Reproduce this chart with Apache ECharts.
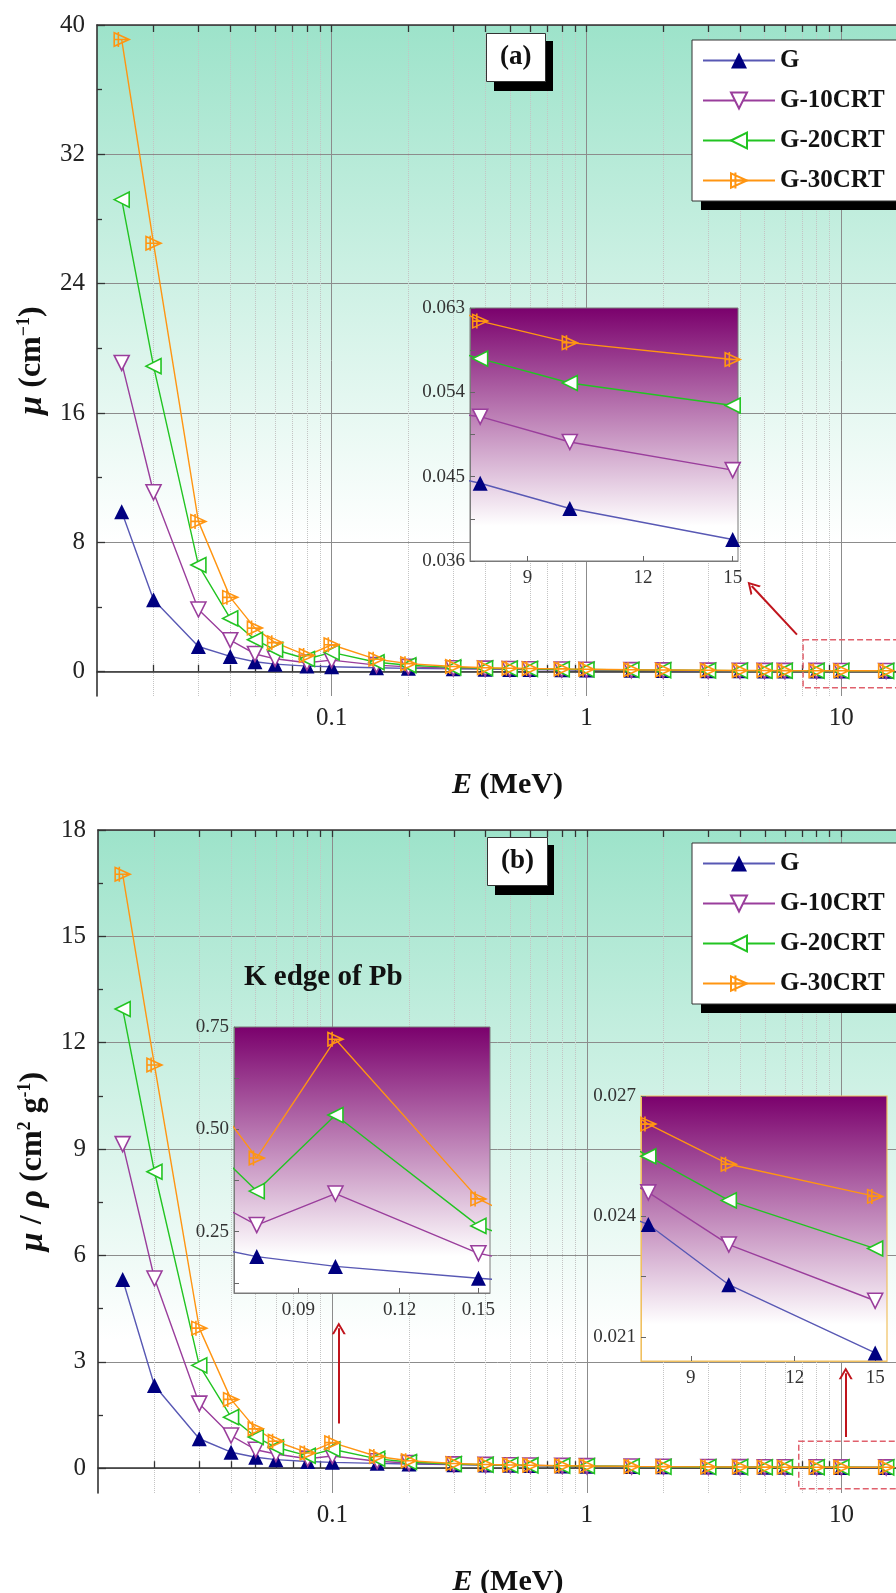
<!DOCTYPE html>
<html>
<head>
<meta charset="utf-8">
<script src="https://cdn.jsdelivr.net/npm/echarts@6/dist/echarts.min.js"></script>
</head>
<body style="margin:0">
<div id="container" style="width:896px;height:1593px"></div>
<script>
var energy = [0.015, 0.02, 0.03, 0.04, 0.05, 0.06, 0.08, 0.1, 0.15, 0.2, 0.3, 0.4, 0.5, 0.6, 0.8, 1, 1.5, 2, 3, 4, 5, 6, 8, 10, 15];

// (a) mu, cm-1
var muG   = [9.9, 4.45, 1.56, 0.95, 0.62, 0.47, 0.35, 0.31, 0.25, 0.21, 0.18, 0.16, 0.145, 0.135, 0.118, 0.106, 0.087, 0.075, 0.062, 0.054, 0.05, 0.047, 0.0443, 0.0416, 0.0383];
var muG10 = [19.1, 11.1, 3.85, 1.95, 1.1, 0.8, 0.56, 0.72, 0.41, 0.3, 0.22, 0.19, 0.17, 0.155, 0.135, 0.122, 0.099, 0.086, 0.07, 0.061, 0.056, 0.053, 0.0514, 0.0487, 0.0457];
var muG20 = [29.2, 18.9, 6.6, 3.3, 1.98, 1.36, 0.79, 1.2, 0.59, 0.4, 0.27, 0.22, 0.195, 0.178, 0.155, 0.14, 0.114, 0.099, 0.081, 0.071, 0.065, 0.061, 0.0576, 0.055, 0.0526];
var muG30 = [39.1, 26.5, 9.3, 4.6, 2.7, 1.8, 1.0, 1.67, 0.77, 0.5, 0.32, 0.25, 0.22, 0.2, 0.175, 0.158, 0.128, 0.111, 0.092, 0.081, 0.074, 0.068, 0.0616, 0.0593, 0.0575];

// (b) mu/rho, cm2 g-1
var mrG   = [5.32, 2.33, 0.83, 0.45, 0.31, 0.24, 0.189, 0.165, 0.136, 0.118, 0.1, 0.09, 0.081, 0.075, 0.065, 0.058, 0.047, 0.041, 0.033, 0.029, 0.0262, 0.0248, 0.0238, 0.0223, 0.0206];
var mrG10 = [9.14, 5.35, 1.82, 0.92, 0.52, 0.4, 0.266, 0.343, 0.197, 0.145, 0.108, 0.093, 0.083, 0.076, 0.066, 0.058, 0.047, 0.041, 0.034, 0.03, 0.0275, 0.026, 0.0246, 0.0233, 0.0219];
var mrG20 = [12.95, 8.36, 2.9, 1.44, 0.88, 0.59, 0.349, 0.535, 0.264, 0.175, 0.118, 0.097, 0.086, 0.078, 0.067, 0.06, 0.049, 0.042, 0.035, 0.031, 0.0285, 0.027, 0.0255, 0.0244, 0.0232];
var mrG30 = [16.75, 11.37, 3.95, 1.94, 1.11, 0.76, 0.43, 0.72, 0.33, 0.21, 0.13, 0.104, 0.09, 0.082, 0.07, 0.062, 0.05, 0.044, 0.036, 0.032, 0.03, 0.028, 0.0263, 0.0253, 0.0245];

var names = ['G', 'G-10CRT', 'G-20CRT', 'G-30CRT'];

// tick values
var xMajor = [0.1, 1, 10];
var xMinor = [0.02, 0.03, 0.04, 0.05, 0.06, 0.07, 0.08, 0.09, 0.2, 0.3, 0.4, 0.5, 0.6, 0.7, 0.8, 0.9, 2, 3, 4, 5, 6, 7, 8, 9, 20];
var xAll = xMinor.concat(xMajor);
var yMajorA = [0, 8, 16, 24, 32, 40];
var yMinorA = [4, 12, 20, 28, 36];
var yMajorB = [0, 3, 6, 9, 12, 15, 18];
var yMinorB = [1.5, 4.5, 7.5, 10.5, 13.5, 16.5];
var insetHighX = [9, 12, 15];
var insetLowX = [0.09, 0.12, 0.15];
var insetAY = [0.036, 0.045, 0.054, 0.063];
var insetAYMinor = [0.0405, 0.0495, 0.0585];
var insetBLY = [0.25, 0.5, 0.75];
var insetBLYMinor = [0.125, 0.375, 0.625];
var insetBRY = [0.021, 0.024, 0.027];
var insetBRYMinor = [0.0225, 0.0255];

var dom = document.getElementById('container');
var myChart = echarts.init(dom);

var FONT = 'Liberation Serif';
var plusTri = 'path://M1,1 L19,10 L1,19 Z M1,10 L19,10 M6,0 L6,20';
var arrowHead = 'path://M0,10 L5,0 L10,10 L8.4,10 L5,3.2 L1.6,10 Z';

var look = {
    'G':       { symbol: 'triangle', rotate: 0,   fill: '#000080', line: '#5858b4' },
    'G-10CRT': { symbol: 'triangle', rotate: 180, fill: '#ffffff', line: '#9a3e9c' },
    'G-20CRT': { symbol: 'triangle', rotate: 90,  fill: '#ffffff', line: '#22c422' },
    'G-30CRT': { symbol: plusTri,    rotate: 0,   fill: 'rgba(0,0,0,0)', line: '#ff9512' }
};

function pts(vals) {
    return energy.map(function (e, i) { return [e, vals[i]]; });
}

function mkSeries(name, vals, xi, yi, z) {
    var st = look[name];
    return {
        type: 'line',
        name: name,
        xAxisIndex: xi,
        yAxisIndex: yi,
        z: z,
        data: pts(vals),
        symbol: st.symbol,
        symbolRotate: st.rotate,
        symbolSize: 15,
        showAllSymbol: true,
        clip: true,
        lineStyle: { color: st.line, width: 1.4 },
        itemStyle: { color: st.fill, borderColor: name === 'G' ? '#000080' : st.line, borderWidth: name === 'G' ? 0 : 1.6 },
        emphasis: { disabled: true }
    };
}

var mint = {
    type: 'linear', x: 0, y: 0, x2: 0, y2: 1,
    colorStops: [{ offset: 0, color: '#9de3ca' }, { offset: 0.77, color: '#ffffff' }, { offset: 1, color: '#ffffff' }]
};
var purple = {
    type: 'linear', x: 0, y: 0, x2: 0, y2: 1,
    colorStops: [{ offset: 0, color: '#7a006c' }, { offset: 0.86, color: '#ffffff' }, { offset: 1, color: '#ffffff' }]
};

var labelStyle = { fontFamily: FONT, fontSize: 25, color: '#222' };
var insetLabel = { fontFamily: FONT, fontSize: 19, color: '#333' };

function mainX(grid, kind) {
    var ax = {
        type: 'log', gridIndex: grid, min: 0.012, max: 20, z: 0,
        position: kind === 'top' ? 'top' : 'bottom',
        axisLine: { show: kind !== 'minor', lineStyle: { color: '#333', width: 1.6 } },
        axisTick: { show: true, inside: true, length: 7, lineStyle: { color: '#333', width: 1.3 },
            customValues: kind === 'major' ? xMajor : (kind === 'minor' ? xMinor : xAll) },
        axisLabel: { show: kind === 'major', customValues: xMajor, margin: 10, textStyle: labelStyle },
        splitLine: { show: kind !== 'top', lineStyle: kind === 'major'
            ? { color: '#8c8c8c', width: 1 } : { color: '#c4c4c4', width: 1, type: 'dotted' } },
        minorTick: { show: false }
    };
    if (kind === 'major') {
        ax.name = '{i|E} (MeV)';
        ax.nameLocation = 'middle';
        ax.nameGap = 74;
        ax.nameTextStyle = { fontFamily: FONT, fontSize: 30, fontWeight: 'bold', color: '#111',
            rich: { i: { fontFamily: FONT, fontSize: 30, fontWeight: 'bold', fontStyle: 'italic', color: '#111' } } };
    }
    return ax;
}

function mainY(grid, min, max, major, minor, isMinor, name) {
    var ax = {
        type: 'value', gridIndex: grid, min: min, max: max, z: 0,
        position: 'left',
        axisLine: { show: !isMinor, lineStyle: { color: '#333', width: 1.6 } },
        axisTick: { show: true, inside: true, length: isMinor ? 5 : 8, lineStyle: { color: '#333', width: 1.3 },
            customValues: isMinor ? minor : major },
        axisLabel: { show: !isMinor, customValues: major, margin: 12, textStyle: labelStyle },
        splitLine: { show: !isMinor, lineStyle: { color: '#8c8c8c', width: 1 } }
    };
    if (!isMinor) {
        ax.name = name;
        ax.nameLocation = 'middle';
        ax.nameGap = 48;
        ax.nameTextStyle = { fontFamily: FONT, fontSize: 32, fontWeight: 'bold', color: '#111',
            rich: {
                i: { fontFamily: FONT, fontSize: 34, fontWeight: 'bold', fontStyle: 'italic', color: '#111' },
                s: { fontFamily: FONT, fontSize: 18, fontWeight: 'bold', verticalAlign: 'top', color: '#111' }
            } };
    }
    return ax;
}

function insetX(grid, min, max, ticks, digits, lineColor) {
    return {
        type: 'log', gridIndex: grid, min: min, max: max, z: 4, position: 'bottom',
        axisLine: { show: true, lineStyle: { color: lineColor, width: 1 } },
        axisTick: { show: true, inside: true, length: 5, customValues: ticks, lineStyle: { color: '#666' } },
        axisLabel: { show: true, customValues: ticks, margin: 8, textStyle: insetLabel,
            formatter: function (v) { return digits ? v.toFixed(digits) : String(v); } },
        splitLine: { show: false }
    };
}

function insetY(grid, min, max, labels, minor, digits, lineColor) {
    return {
        type: 'value', gridIndex: grid, min: min, max: max, z: 4, position: 'left',
        axisLine: { show: true, lineStyle: { color: lineColor, width: 1 } },
        axisTick: { show: true, inside: true, length: 5, customValues: labels.concat(minor), lineStyle: { color: '#666' } },
        axisLabel: { show: true, customValues: labels, margin: 5, textStyle: insetLabel,
            formatter: function (v) { return v.toFixed(digits); } },
        splitLine: { show: false }
    };
}

var series = [];
var valsA = [muG, muG10, muG20, muG30];
var valsB = [mrG, mrG10, mrG20, mrG30];
names.forEach(function (n, i) {
    series.push(mkSeries(n, valsA[i], 0, 0, 2));
    series.push(mkSeries(n, valsA[i], 3, 2, 5));
    series.push(mkSeries(n, valsB[i], 4, 3, 2));
    series.push(mkSeries(n, valsB[i], 7, 5, 5));
    series.push(mkSeries(n, valsB[i], 8, 6, 5));
});

var redLine = { color: '#c0141c', width: 2, type: 'solid' };
var dashBox = { color: 'rgba(0,0,0,0)', borderColor: '#e0606c', borderWidth: 1.5, borderType: 'dashed' };

// annotations on panel (a)
series.push({
    type: 'line', xAxisIndex: 0, yAxisIndex: 0, data: [], z: 6, silent: true,
    markLine: { silent: true, symbol: ['none', arrowHead], symbolSize: [14, 12], label: { show: false },
        lineStyle: redLine, data: [[{ coord: [6.7, 2.3] }, { coord: [4.45, 5.3] }]] },
    markArea: { silent: true, itemStyle: dashBox, data: [[{ coord: [7.08, 1.98] }, { coord: [20, -0.99] }]] }
});
// annotations on panel (b)
series.push({
    type: 'line', xAxisIndex: 4, yAxisIndex: 3, data: [], z: 6, silent: true,
    markLine: { silent: true, symbol: ['none', arrowHead], symbolSize: [14, 12], label: { show: false },
        lineStyle: redLine, data: [
            [{ coord: [0.106, 1.26] }, { coord: [0.106, 3.95] }],
            [{ coord: [10.4, 0.88] }, { coord: [10.4, 2.68] }]
        ] },
    markArea: { silent: true, itemStyle: dashBox, data: [[{ coord: [6.8, 0.76] }, { coord: [20, -0.58] }]] }
});

function legendAt(top) {
    return {
        data: names, orient: 'vertical', left: 692, top: top, z: 4,
        itemWidth: 72, itemHeight: 20, itemGap: 15,
        padding: [8, 12, 8, 10],
        backgroundColor: '#ffffff', borderColor: '#333', borderWidth: 1,
        selectedMode: false,
        textStyle: { fontFamily: FONT, fontSize: 25, fontWeight: 'bold', color: '#111' }
    };
}

function tag(text, left, top) {
    return {
        text: text, left: left, top: top, padding: [11, 14],
        backgroundColor: '#ffffff', borderColor: '#333', borderWidth: 1,
        textStyle: { fontFamily: FONT, fontSize: 27, fontWeight: 'bold', color: '#111' }
    };
}

// hard black drop shadows behind the boxed labels and legends
function shadowBox(x, y, w, h) {
    return { type: 'rect', z: 3, silent: true, shape: { x: x, y: y, width: w, height: h }, style: { fill: '#000' } };
}

option = {
    animation: false,
    backgroundColor: '#ffffff',
    title: [
        tag('(a)', 486, 33),
        tag('(b)', 487, 837),
        { text: 'K edge of Pb', left: 244, top: 963, padding: 0,
          textStyle: { fontFamily: FONT, fontSize: 29, fontWeight: 'bold', color: '#111' } }
    ],
    legend: [legendAt(40), legendAt(843)],
    graphic: [
        shadowBox(494, 41, 59, 50),
        shadowBox(495, 845, 59, 50),
        shadowBox(701, 49, 220, 161),
        shadowBox(701, 852, 220, 161)
    ],
    grid: [
        { left: 97, top: 25, right: -22, bottom: 897, show: true, borderWidth: 0, backgroundColor: mint, z: 0, outerBoundsMode: 'none' },
        { left: 470, top: 308, right: 158, bottom: 1032, show: true, borderColor: '#7a7a7a', borderWidth: 1, backgroundColor: purple, z: 3, outerBoundsMode: 'none' },
        { left: 98, top: 830, right: -22, bottom: 100, show: true, borderWidth: 0, backgroundColor: mint, z: 0, outerBoundsMode: 'none' },
        { left: 234, top: 1027, right: 406, bottom: 300, show: true, borderColor: '#7a7a7a', borderWidth: 1, backgroundColor: purple, z: 3, outerBoundsMode: 'none' },
        { left: 641, top: 1096, right: 9, bottom: 232, show: true, borderColor: '#f0c060', borderWidth: 1.2, backgroundColor: purple, z: 3, outerBoundsMode: 'none' }
    ],
    xAxis: [
        mainX(0, 'major'), mainX(0, 'minor'), mainX(0, 'top'),
        insetX(1, 7.8, 15.2, insetHighX, 0, '#7a7a7a'),
        mainX(2, 'major'), mainX(2, 'minor'), mainX(2, 'top'),
        insetX(3, 0.075, 0.155, insetLowX, 2, '#7a7a7a'),
        insetX(4, 7.84, 15.5, insetHighX, 0, '#f0c060')
    ],
    yAxis: [
        mainY(0, -1.5, 40, yMajorA, yMinorA, false, '{i|μ} (cm{s|−1})'),
        mainY(0, -1.5, 40, yMajorA, yMinorA, true),
        insetY(1, 0.036, 0.063, insetAY, insetAYMinor, 3, '#7a7a7a'),
        mainY(2, -0.7, 18, yMajorB, yMinorB, false, '{i|μ} / {i|ρ} (cm{s|2} g{s|-1})'),
        mainY(2, -0.7, 18, yMajorB, yMinorB, true),
        insetY(3, 0.1, 0.75, insetBLY, insetBLYMinor, 2, '#7a7a7a'),
        insetY(4, 0.0204, 0.027, insetBRY, insetBRYMinor, 3, '#f0c060')
    ],
    series: series
};

if (option && typeof option === 'object') {
    myChart.setOption(option);
}
</script>
</body>
</html>
